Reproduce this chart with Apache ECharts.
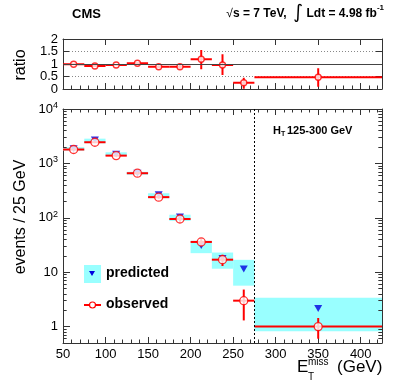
<!DOCTYPE html>
<html><head><meta charset="utf-8">
<script src="https://cdn.jsdelivr.net/npm/echarts@6/dist/echarts.min.js"></script>
<style>html,body{margin:0;padding:0;background:#fff}#c{width:399px;height:383px}</style>
</head><body><div id="c"></div>
<script>
// ---- data ----
const binLo     = [50, 75, 100, 125, 150, 175, 200, 225, 250, 275];
const binHi     = [75, 100, 125, 150, 175, 200, 225, 250, 275, 425];
const binCenter = [62.5, 87.5, 112.5, 137.5, 162.5, 187.5, 212.5, 237.5, 262.5, 350];
const observed  = [1800, 2450, 1390, 660, 240, 95, 36, 17, 3, 1.0];
const obsLo     = [1758, 2400, 1353, 634, 224, 85, 30, 13, 1.3, 0.6];
const obsHi     = [1842, 2500, 1427, 686, 256, 105, 42, 21, 4.8, 1.44];
const predicted = [1850, 2700, 1480, 660, 265, 104, 31, 17.8, 11.5, 2.15];
const predLo    = [1720, 2350, 1370, 620, 229, 88, 22.4, 11.6, 5.66, 0.82];
const predHi    = [1990, 2850, 1600, 700, 283, 114, 37.9, 23, 16.9, 3.4];
const ratio     = [0.99, 0.92, 0.96, 1.03, 0.89, 0.89, 1.19, 0.96, 0.25, 0.47];
const ratioLo   = [0.96, 0.89, 0.93, 0.99, 0.84, 0.81, 0.79, 0.56, 0.01, 0.09];
const ratioHi   = [1.02, 0.95, 0.99, 1.07, 0.94, 0.97, 1.56, 1.39, 0.45, 0.83];
const xTicks    = [50, 100, 150, 200, 250, 300, 350, 400];
const ratioTicksA = [0, 1, 2];
const ratioTicksB = [0.5, 1.5];
const logTickLabels = {1: '1', 10: '10', 100: '10{s|2}', 1000: '10{s|3}', 10000: '10{s|4}'};

const AX = '#333333';
const FONT = 'Liberation Sans, Arial, Helvetica, sans-serif';
const RED = '#ff0000';
const CYAN = '#99ffff';
const BLUE = '#0000e0';

const chart = echarts.init(document.getElementById('c'));

function xAxis(grid, pos, showLabel) {
  return {
    type: 'value', gridIndex: grid, position: pos, min: 50, max: 425, interval: 50,
    axisLine: {show: true, onZero: false, lineStyle: {color: AX, width: 1}},
    axisTick: {show: true, inside: true, length: 6, lineStyle: {color: AX}},
    axisLabel: {show: showLabel, color: '#000', fontFamily: FONT, fontSize: 13, margin: 5,
      formatter: v => xTicks.indexOf(v) >= 0 ? String(v) : ''},
    splitLine: {show: false}
  };
}
function xMinorAxis(grid, pos) {
  return {
    type: 'value', gridIndex: grid, position: pos, offset: 0, min: 50, max: 425, interval: 10,
    axisLine: {show: false, onZero: false},
    axisTick: {show: true, inside: true, length: 3.5, lineStyle: {color: AX}},
    axisLabel: {show: false}, splitLine: {show: false}
  };
}
function yRatio(pos, showLabel, list, showLine) {
  return {
    type: 'value', gridIndex: 0, position: pos, offset: 0, min: 0, max: 2, interval: 0.5,
    axisLine: {show: showLine, onZero: false, lineStyle: {color: AX}},
    axisTick: {show: showLine, inside: true, length: 6, lineStyle: {color: AX}},
    axisLabel: {show: showLabel, color: '#000', fontFamily: FONT, fontSize: 13, margin: 5,
      showMinLabel: true, showMaxLabel: true, hideOverlap: false,
      formatter: v => list.indexOf(v) >= 0 ? String(v) : ''},
    splitLine: {show: showLabel && showLine, lineStyle: {color: '#888', type: [1, 2], width: 1}}
  };
}
function yMain(pos, showLabel) {
  return {
    type: 'log', logBase: 10, gridIndex: 1, position: pos, min: 0.5, max: 10000,
    axisLine: {show: true, onZero: false, lineStyle: {color: AX}},
    axisTick: {show: true, inside: true, length: 7, lineStyle: {color: AX}},
    axisLabel: {show: showLabel, color: '#000', fontFamily: FONT, fontSize: 13, margin: 5,
      showMinLabel: true, showMaxLabel: true,
      formatter: v => {
        const k = Math.round(Math.log10(v));
        const p = Math.pow(10, k);
        if (Math.abs(v - p) / p < 1e-6 && logTickLabels[p] !== undefined) return logTickLabels[p];
        return '';
      },
      rich: {s: {fontSize: 9, fontFamily: FONT, color: '#000', verticalAlign: 'top', padding: [0, 0, 7, 0]}}
    },
    splitLine: {show: false}
  };
}

// log-axis minor ticks (axis decoration, 2..9 per decade), placed via markLine in axis units
const yMinor = [];
for (let k = -1; k <= 3; k++) for (let m = 2; m <= 9; m++) {
  const v = m * Math.pow(10, k);
  if (v >= 0.5 && v <= 10000) yMinor.push(v);
}
const minorLen = 4.3; // in x units (~3.7 px)
const yMinorSegs = [];
yMinor.forEach(v => {
  yMinorSegs.push([{coord: [50, v]}, {coord: [50 + minorLen, v]}]);
  yMinorSegs.push([{coord: [425, v]}, {coord: [425 - minorLen, v]}]);
});

function errRender(lw) {
  return function (params, api) {
    const a = api.coord([api.value(0), api.value(3)]);
    const b = api.coord([api.value(1), api.value(3)]);
    const c1 = api.coord([api.value(2), api.value(4)]);
    const c2 = api.coord([api.value(2), api.value(5)]);
    return {type: 'group', children: [
      {type: 'line', shape: {x1: a[0], y1: a[1], x2: b[0], y2: b[1]}, style: {stroke: RED, lineWidth: lw}},
      {type: 'line', shape: {x1: c1[0], y1: c1[1], x2: c2[0], y2: c2[1]}, style: {stroke: RED, lineWidth: lw}}
    ]};
  };
}

const bandData = binLo.map((l, i) => [l, binHi[i], predLo[i], predHi[i]]);
const obsErrData = binLo.map((l, i) => [l, binHi[i], binCenter[i], observed[i], obsLo[i], obsHi[i]]);
const ratioErrData = binLo.map((l, i) => [l, binHi[i], binCenter[i], ratio[i], ratioLo[i], ratioHi[i]]);

const option = {
  animation: false,
  backgroundColor: '#fff',
  grid: [
    {left: 63, right: 17, top: 39, height: 50},
    {left: 63, right: 17, top: 109, height: 234}
  ],
  xAxis: [xAxis(0, 'bottom', false), xAxis(0, 'top', false), xAxis(1, 'bottom', true), xAxis(1, 'top', false),
          xMinorAxis(0, 'bottom'), xMinorAxis(1, 'bottom'), xMinorAxis(1, 'top')],
  yAxis: [yRatio('left', true, ratioTicksA, true), yRatio('right', false, [], true),
          yMain('left', true), yMain('right', false), yRatio('left', true, ratioTicksB, false)],
  series: [
    // log minor ticks
    {type: 'line', xAxisIndex: 2, yAxisIndex: 2, data: [], silent: true,
      markLine: {silent: true, symbol: 'none', label: {show: false}, animation: false,
        lineStyle: {color: AX, type: 'solid', width: 1}, data: yMinorSegs}},
    // ratio panel
    {type: 'line', xAxisIndex: 0, yAxisIndex: 0, data: [], silent: true,
      markLine: {silent: true, symbol: 'none', label: {show: false},
        lineStyle: {color: '#444', type: 'solid', width: 1.2}, data: [{yAxis: 1}]}},
    {type: 'custom', xAxisIndex: 0, yAxisIndex: 0, renderItem: errRender(2), data: ratioErrData,
      encode: {x: [0, 1, 2], y: [3, 4, 5]}, z: 3},
    {type: 'scatter', xAxisIndex: 0, yAxisIndex: 0, symbol: 'circle', symbolSize: 6,
      itemStyle: {color: '#fff', borderColor: RED, borderWidth: 1.3},
      data: binCenter.map((x, i) => [x, ratio[i]]), z: 4},
    // main panel
    {type: 'custom', xAxisIndex: 2, yAxisIndex: 2, z: 2,
      renderItem: function (params, api) {
        const p1 = api.coord([api.value(0), api.value(3)]);
        const p2 = api.coord([api.value(1), api.value(2)]);
        return {type: 'rect', shape: {x: p1[0], y: p1[1], width: p2[0] - p1[0], height: p2[1] - p1[1]},
          style: {fill: CYAN}};
      },
      encode: {x: [0, 1], y: [2, 3]}, data: bandData,
      markLine: {silent: true, symbol: 'none', label: {show: false},
        lineStyle: {color: '#000', type: [2, 2], width: 1}, data: [{xAxis: 275}]}},
    {type: 'scatter', xAxisIndex: 2, yAxisIndex: 2, symbol: 'triangle', symbolRotate: 180, symbolSize: [8, 7],
      itemStyle: {color: BLUE}, data: binCenter.map((x, i) => [x, predicted[i]]), z: 3},
    {type: 'custom', xAxisIndex: 2, yAxisIndex: 2, renderItem: errRender(2), data: obsErrData,
      encode: {x: [0, 1, 2], y: [3, 4, 5]}, z: 4},
    {type: 'scatter', xAxisIndex: 2, yAxisIndex: 2, symbol: 'circle', symbolSize: 8,
      itemStyle: {color: '#fff', borderColor: RED, borderWidth: 1.3},
      data: binCenter.map((x, i) => [x, observed[i]]), z: 5}
  ],
  graphic: [
    {type: 'text', left: 72, top: 8, style: {text: 'CMS', font: 'bold 13px ' + FONT, fill: '#000'}},
    {type: 'text', right: 15, top: 4, style: {
      text: '{r|√}{b|s = 7 TeV,  }{i|∫}{b| Ldt = 4.98 fb}{s|-1}',
      rich: {
        r: {font: '12px ' + FONT, fill: '#000'},
        b: {font: 'bold 12px ' + FONT, fill: '#000'},
        i: {font: '19px DejaVu Sans', fill: '#000'},
        s: {font: 'bold 8px ' + FONT, fill: '#000', verticalAlign: 'top', padding: [0, 0, 9, 0]}
      }}},
    {type: 'text', x: 21, y: 65, rotation: Math.PI / 2, style: {text: 'ratio', font: '16px ' + FONT, fill: '#000', align: 'center', verticalAlign: 'middle'}},
    {type: 'text', x: 21, y: 217, rotation: Math.PI / 2, style: {text: 'events / 25 GeV', font: '16px ' + FONT, fill: '#000', align: 'center', verticalAlign: 'middle'}},
    // x axis title
    {type: 'text', x: 297, y: 359, style: {text: 'E', font: '17px ' + FONT, fill: '#000'}},
    {type: 'text', x: 308, y: 357, style: {text: 'miss', font: '10px ' + FONT, fill: '#000'}},
    {type: 'text', x: 308, y: 372, style: {text: 'T', font: '10px ' + FONT, fill: '#000'}},
    {type: 'text', x: 337, y: 359, style: {text: '(GeV)', font: '17px ' + FONT, fill: '#000'}},
    // HT label
    {type: 'text', x: 273, y: 125, style: {text: 'H', font: 'bold 11px ' + FONT, fill: '#000'}},
    {type: 'text', x: 281, y: 131, style: {text: 'T', font: 'bold 7px ' + FONT, fill: '#000'}},
    {type: 'text', x: 287, y: 125, style: {text: '125-300 GeV', font: 'bold 11px ' + FONT, fill: '#000'}},
    // legend
    {type: 'rect', shape: {x: 84, y: 265, width: 17, height: 18}, style: {fill: CYAN}},
    {type: 'polygon', shape: {points: [[89, 271], [95, 271], [92, 276]]}, style: {fill: BLUE}},
    {type: 'text', x: 106, y: 266, style: {text: 'predicted', font: 'bold 14px ' + FONT, fill: '#000'}},
    {type: 'line', shape: {x1: 84, y1: 305, x2: 101, y2: 305}, style: {stroke: RED, lineWidth: 2}},
    {type: 'circle', shape: {cx: 92.5, cy: 305, r: 3}, style: {fill: '#fff', stroke: RED, lineWidth: 1.2}},
    {type: 'text', x: 106, y: 297, style: {text: 'observed', font: 'bold 14px ' + FONT, fill: '#000'}}
  ]
};
chart.setOption(option);
</script></body></html>
